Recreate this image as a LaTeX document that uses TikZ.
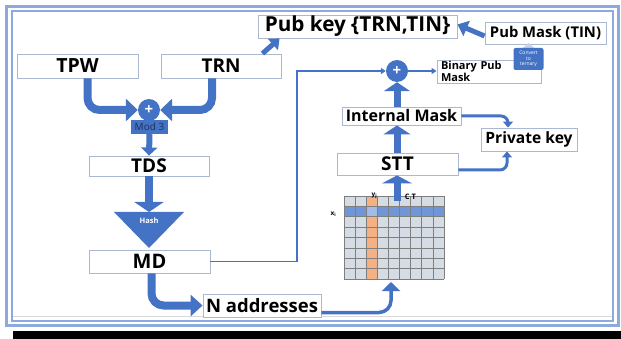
\documentclass[tikz,border=0pt]{standalone}
\usepackage{fontspec}
\setmainfont{Open Sans}
\usetikzlibrary{arrows.meta,calc}
\definecolor{ablue}{HTML}{4472C4}
\definecolor{frameblue}{HTML}{8EA9DB}
\definecolor{boxline}{HTML}{AAB8D2}
\definecolor{cellgray}{HTML}{D6DCE4}
\definecolor{rowblue}{HTML}{6F97D8}
\definecolor{colorange}{HTML}{F4B183}
\definecolor{mixblue}{HTML}{A4BBE4}
\definecolor{gridline}{HTML}{7F7F7F}
\definecolor{modtext}{HTML}{1F3060}
\definecolor{callout}{HTML}{C8D1E6}
\definecolor{lightrule}{HTML}{D9D9D9}
\tikzset{
  box/.style={draw=boxline, line width=0.9pt, fill=white, inner sep=0pt},
  fs/.style={font=\bfseries\fontsize{#1}{#1}\selectfont},
  fat/.style={draw=ablue, line width=#1},
  thinarrow/.style={draw=ablue, line width=1.8pt, -{Triangle[length=5pt,width=6pt]}},
  bluecirc/.style={circle, fill=ablue, minimum size=22pt, inner sep=0pt, text=white, font=\bfseries\fontsize{15}{15}\selectfont},
}
\begin{document}
\begin{tikzpicture}[x=1pt,y=-1pt]
\useasboundingbox (0,0) rectangle (621,339);
% frame
\draw[frameblue, line width=3pt] (6.5,6.5) rectangle (618.5,325.5);
\draw[frameblue, line width=2pt] (11.5,11.5) rectangle (612.5,320.5);
\draw[lightrule, line width=1pt] (12.5,316.5) -- (611.5,316.5);
\fill[black] (13,331) rectangle (621,339);

% nodes
\node[box, fs=19.5, minimum width=121pt, minimum height=24pt] (TPW) at (77.5,66) {TPW};
\node[box, fs=19, minimum width=120pt, minimum height=24pt] (TRN) at (221,66) {TRN};
\node[box, fs=20.7, minimum width=199pt, minimum height=23pt] (PubKey) at (357.5,26.5) {Pub key \{TRN,TIN\}};
\node[box, fs=14.8, minimum width=121pt, minimum height=22pt] (PubMask) at (545.5,33) {Pub Mask (TIN)};
\node[box, text width=96pt, inner xsep=4pt, minimum height=23pt, align=left, font=\bfseries\fontsize{11}{12}\selectfont] (BinPub) at (489,71.5) {Binary Pub\\Mask};
\fill[callout] (522,48.5) -- (535,48.5) -- (528.5,43) -- cycle;
\node[rounded corners=2pt, fill=ablue, text=white, font=\fontsize{5}{5.5}\selectfont, align=center, minimum width=30pt, minimum height=22pt, inner sep=0pt] (conv) at (528.5,59) {Convert\\to\\ternary};
\node[bluecirc] (c2) at (397,71) {+};
\node[box, fs=16, minimum width=119pt, minimum height=18pt] (IntMask) at (401.5,116) {Internal Mask};
\node[box, fs=19, minimum width=121pt, minimum height=22pt] (STT) at (397.5,164) {STT};
\node[box, fs=15.6, minimum width=96pt, minimum height=23pt] (PrivKey) at (529,139.5) {Private key};

\node[fill=ablue, minimum width=37pt, minimum height=14pt, inner sep=0pt, text=modtext, font=\fontsize{10}{10}\selectfont] (Mod) at (149.5,127) {Mod 3};
\node[bluecirc] (c1) at (149,110) {+};
\node[box, fs=19, minimum width=120pt, minimum height=20pt] (TDS) at (149,166) {TDS};
\coordinate (hashTop) at (149,212);
\fill[ablue] (114,212) -- (184,212) -- (149,248) -- cycle;
\node[text=white, font=\bfseries\fontsize{7.5}{7.5}\selectfont, inner sep=0pt] (hashlbl) at (149,221) {Hash};
\node[box, fs=20, minimum width=121pt, minimum height=23pt] (MD) at (149.5,261.5) {MD};
\node[box, fs=18.5, minimum width=118pt, minimum height=23pt] (Naddr) at (262,305.5) {N addresses};

% grid
\fill[cellgray] (344,196) rectangle (444,279);
\fill[rowblue] (344,206.375) rectangle (444,216.75);
\fill[colorange] (366.222,196) rectangle (377.333,279);
\fill[mixblue] (366.222,206.375) rectangle (377.333,216.75);
\foreach \k in {0,...,9} \draw[gridline, line width=0.7pt] (344+\k*11.111,196) -- ++(0,83);
\foreach \k in {0,...,8} \draw[gridline, line width=0.7pt] (344,196+\k*10.375) -- ++(100,0);
\node[font=\bfseries\fontsize{6.5}{6.5}\selectfont, inner sep=0pt] (xi) at (333.5,214) {x\textsubscript{i}};
\node[font=\bfseries\fontsize{6.5}{6.5}\selectfont, inner sep=0pt] (yj) at (374.5,195.5) {y\textsubscript{j}};
\node[font=\bfseries\fontsize{7.5}{7.5}\selectfont, inner sep=0pt] (CT) at (410.5,197) {C T};
\coordinate (gridTop) at (397,201);
\coordinate (gridBot) at (391,282);

% arrows left
\draw[fat=8pt, -{Triangle[length=12pt,width=22pt]}, rounded corners=12pt] ($(TPW.south)+(10,0)$) |- (c1.west);
\draw[fat=8pt, -{Triangle[length=12pt,width=22pt]}, rounded corners=12pt] ($(TRN.south)+(-9,0)$) |- (c1.east);
\draw[fat=6pt, -{Triangle[length=8pt,width=16pt]}] (Mod.south) -- (TDS.north);
\draw[fat=8pt, -{Triangle[length=10pt,width=29pt]}] (TDS.south) -- (hashTop);
\draw[fat=8pt, -{Triangle[length=12pt,width=21pt]}, rounded corners=12pt] ($(MD.south)+(2,0)$) |- (Naddr.west);
\draw[fat=5pt, -{Triangle[length=9pt,width=15pt]}] ($(TRN.north east)+(-19,0)$) -- ($(PubKey.south west)+(22,0)$);
\draw[fat=5pt, -{Triangle[length=10pt,width=16pt]}] ($(PubMask.west)+(0,3)$) -- ($(PubKey.east)+(0,-2)$);

% arrows right
\draw[thinarrow] (MD.east) -| (297,71) -- (c2.west);
\draw[thinarrow] (c2.east) -- (BinPub.west |- c2.east);
\draw[fat=7pt, -{Triangle[length=9pt,width=26pt]}] (IntMask.north -| c2.south) -- (c2.south);
\draw[fat=7pt, -{Triangle[length=9pt,width=27pt]}] (STT.north -| c2.south) -- (IntMask.south -| c2.south);
\draw[fat=7pt, -{Triangle[length=8pt,width=30pt]}] (gridTop) -- (STT.south -| gridTop);
\draw[fat=3pt, -{Triangle[length=6pt,width=10pt]}, rounded corners=7pt] (IntMask.east) -| ($(PrivKey.north)+(-21,0)$);
\draw[fat=3pt, -{Triangle[length=6pt,width=10pt]}, rounded corners=7pt] ($(STT.east)+(0,6)$) -| ($(PrivKey.south)+(-22,0)$);
\draw[fat=3.5pt, -{Triangle[length=9pt,width=18pt]}, rounded corners=12pt] ($(Naddr.east)+(0,7)$) -| (gridBot);
\end{tikzpicture}
\end{document}
